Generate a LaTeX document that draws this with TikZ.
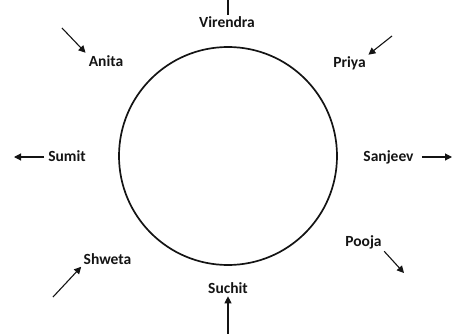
\documentclass[tikz,border=0pt]{standalone}
\usepackage{fontspec}
\setmainfont{Carlito}
\usepackage{tikz}
\usetikzlibrary{positioning, arrows.meta}
\definecolor{pInk}{HTML}{141414}
\tikzset{
  pName/.style={text=pInk, font=\fontsize{15.5}{18}\selectfont\bfseries, inner sep=1pt, anchor=base},
  pArrow/.style={draw=pInk, line width=1.1pt, -{Triangle[length=7pt, width=7pt]}},
  pRing/.style={draw=pInk, line width=1.7pt}
}

\begin{document}
\begin{tikzpicture}[x=1pt, y=-1pt]
  \useasboundingbox (0,0) rectangle (452,334);
  \draw[pRing] (228,156) circle[radius=109pt];
  % names round the ring
  \node[pName] (virendra) at (227,28) {Virendra};
  \node[pName] (anita) at (106,67) {Anita};
  \node[pName] (priya) at (349.5,68) {Priya};
  \node[pName] (sumit) at (67,161) {Sumit};
  \node[pName] (sanjeev) at (388.5,161) {Sanjeev};
  \node[pName] (shweta) at (107.5,264) {Shweta};
  \node[pName] (pooja) at (363.5,246) {Pooja};
  \node[pName] (suchit) at (228,293) {Suchit};
  % free ends of the arrows
  \coordinate (virendraEnd) at (228,-12);
  \coordinate (anitaTail) at (62,28);
  \coordinate (priyaTail) at (392,36);
  \coordinate (sumitEnd) at (14,157);
  \coordinate (sanjeevEnd) at (452,157);
  \coordinate (shwetaTail) at (53,297);
  \coordinate (poojaEnd) at (404,273);
  \coordinate (suchitTail) at (228,340);
  % arrows
  \draw[pArrow, shorten <=1pt] (virendra.north -| virendraEnd) -- (virendraEnd);
  \draw[pArrow, shorten >=3pt] (anitaTail) -- (anita.north west);
  \draw[pArrow, shorten >=2pt] (priyaTail) -- (priya.north east);
  \draw[pArrow, shorten <=3pt] (sumit.west |- sumitEnd) -- (sumitEnd);
  \draw[pArrow, shorten <=7pt] (sanjeev.east |- sanjeevEnd) -- (sanjeevEnd);
  \draw[pArrow, shorten >=2pt] (shwetaTail) -- (shweta.south west);
  \draw[pArrow, shorten <=2pt] (pooja.south east) -- (poojaEnd);
  \draw[pArrow, shorten >=2pt] (suchitTail) -- (suchit.south);
\end{tikzpicture}
\end{document}
